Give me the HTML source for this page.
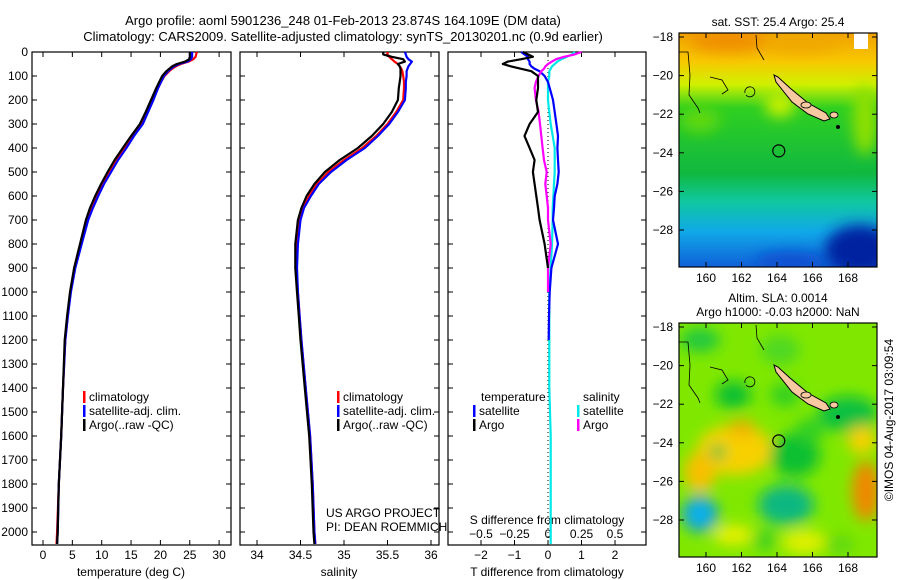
<!DOCTYPE html>
<html><head><meta charset="utf-8"><style>
html,body{margin:0;padding:0;background:#fff;}
svg{display:block;font-family:"Liberation Sans",sans-serif;}
</style></head><body>
<svg id="c" width="900" height="580" viewBox="0 0 900 580">
<defs>
<linearGradient id="sstg" x1="0" y1="0" x2="0" y2="1">
<stop offset="0" stop-color="#f0a000"/><stop offset="0.12" stop-color="#f8c800"/><stop offset="0.22" stop-color="#d0f000"/><stop offset="0.32" stop-color="#30d020"/><stop offset="0.6" stop-color="#10b840"/><stop offset="0.72" stop-color="#10c8a0"/><stop offset="0.85" stop-color="#10a8e8"/><stop offset="1" stop-color="#1060d8"/>
</linearGradient>
<filter id="blur" x="-50%" y="-50%" width="200%" height="200%"><feGaussianBlur stdDeviation="7"/></filter>
<clipPath id="m1c"><rect x="679" y="33" width="198" height="234"/></clipPath>
<clipPath id="m2c"><rect x="679" y="323" width="198" height="234"/></clipPath>
</defs>
<text x="343" y="25" font-size="13" text-anchor="middle">Argo profile: aoml 5901236_248 01-Feb-2013 23.874S 164.109E (DM data)</text>
<text x="343" y="41" font-size="13" text-anchor="middle">Climatology: CARS2009. Satellite-adjusted climatology: synTS_20130201.nc (0.9d earlier)</text>
<g id="g"></g>
</svg>
<script>
// depth levels (m)
const depths=[0,10,20,30,40,50,60,70,80,100,125,150,200,250,300,350,400,450,500,550,600,650,700,800,900,1000,1100,1200,1400,1600,1800,2000,2050];
// temperature profiles (deg C)
const tempArgo=[25.0,25.0,25.0,24.9,24.2,22.8,22.0,21.5,21.0,20.3,19.8,19.3,18.4,17.5,16.5,15.0,13.6,12.2,11.0,9.9,8.9,8.0,7.3,6.3,5.3,4.6,4.1,3.7,3.4,3.1,2.7,2.5,2.4];
const tempClim=[26.2,26.1,26.0,25.6,24.8,23.5,22.6,22.0,21.5,20.7,20.1,19.6,18.7,17.8,16.8,15.3,13.9,12.5,11.3,10.1,9.1,8.2,7.5,6.4,5.4,4.7,4.2,3.8,3.4,3.1,2.7,2.4,2.3];
const tempSat=[25.4,25.4,25.4,25.2,24.6,23.2,22.3,21.8,21.3,20.6,20.1,19.6,18.8,17.9,17.0,15.5,14.2,12.8,11.6,10.4,9.4,8.5,7.7,6.6,5.5,4.75,4.25,3.8,3.4,3.1,2.7,2.5,2.4];
// salinity profiles
const salArgo=[35.45,35.45,35.55,35.68,35.70,35.62,35.64,35.65,35.65,35.65,35.64,35.63,35.62,35.55,35.45,35.32,35.16,34.95,34.78,34.66,34.57,34.51,34.47,34.44,34.44,34.46,34.48,34.50,34.55,34.60,34.63,34.65,34.66];
const salClim=[35.50,35.50,35.52,35.55,35.58,35.62,35.64,35.66,35.67,35.68,35.69,35.69,35.68,35.60,35.50,35.37,35.21,35.00,34.82,34.69,34.60,34.53,34.49,34.46,34.45,34.47,34.49,34.51,34.56,34.61,34.64,34.66,34.67];
const salSat=[35.70,35.71,35.72,35.74,35.78,35.76,35.74,35.73,35.72,35.72,35.71,35.71,35.70,35.62,35.52,35.39,35.24,35.03,34.85,34.71,34.62,34.54,34.50,34.47,34.46,34.47,34.49,34.51,34.56,34.61,34.64,34.66,34.67];
// differences from climatology
const dTArgo=[-0.75,-0.6,-0.45,-0.8,-1.2,-1.35,-1.1,-0.8,-0.5,-0.3,-0.3,-0.3,-0.35,-0.3,-0.55,-0.7,-0.55,-0.4,-0.45,-0.4,-0.35,-0.3,-0.25,-0.1,0,0,0,0,0,0,0,0,0];
const dTSat=[-0.8,-0.7,-0.6,-0.6,-0.55,-0.55,-0.5,-0.4,-0.25,-0.1,0.0,0.05,0.15,0.2,0.25,0.3,0.28,0.3,0.32,0.28,0.2,0.18,0.15,0.3,0.1,0.05,0.03,0.02,0,0,0,0,0];
const dSArgo=[0.25,0.2,0.12,0.06,0.03,0.0,-0.02,-0.03,-0.05,-0.07,-0.09,-0.1,-0.09,-0.07,-0.06,-0.05,-0.04,-0.03,-0.01,-0.02,-0.01,0,0,0.02,0,0,0,0,0,0,0,0,0];
const dSSat=[0.2,0.18,0.14,0.1,0.07,0.05,0.03,0.02,0.01,0.01,0,0,0,0.01,0.02,0.035,0.05,0.05,0.05,0.045,0.04,0.035,0.035,0.03,0.02,0.01,0.01,0.01,0.01,0.02,0.02,0.02,0.02];
// tick labels
const depthTicks=[0,100,200,300,400,500,600,700,800,900,1000,1100,1200,1300,1400,1500,1600,1700,1800,1900,2000];
const tempTicks=[0,5,10,15,20,25,30];
const salTicks=[34,34.5,35,35.5,36];
const dTTicks=[-2,-1,0,1,2];
const dSTicks=[-0.5,-0.25,0,0.25,0.5];
const latTicks=[-18,-20,-22,-24,-26,-28];
const lonTicks=[160,162,164,166,168];

const NS='http://www.w3.org/2000/svg';
const G=document.getElementById('g');
function mk(tag,at,parent){const e=document.createElementNS(NS,tag);for(const k in at)e.setAttribute(k,at[k]);(parent||G).appendChild(e);return e;}
const Y0=52,Y1=545;
function yD(d){return 52+d*0.24;}
const panels=[{x0:32,x1:231},{x0:240,x1:439},{x0:448,x1:646}];
function xT(v){return 43+v*5.87;}
function xS(v){return 257+(v-34)*87;}
function xdT(v){return 548+v*33.5;}
function xdS(v){return 548+v*134;}

panels.forEach((p,i)=>{
  const r=mk('rect',{x:p.x0,y:Y0,width:p.x1-p.x0,height:Y1-Y0,fill:'none',stroke:'#000','stroke-width':1.2});
  
  
  depthTicks.forEach(d=>{
    mk('line',{x1:p.x0,x2:p.x0+5,y1:yD(d),y2:yD(d),stroke:'#000'});
    mk('line',{x1:p.x1-5,x2:p.x1,y1:yD(d),y2:yD(d),stroke:'#000'});
  });
});
depthTicks.forEach(d=>{
  const t=mk('text',{x:28,y:yD(d)+4,'font-size':12,'text-anchor':'end'});
  t.textContent=d;
  
  
});
function xticks(ticks,fx,p,ylab){
  ticks.forEach(v=>{
    const x=fx(v);
    mk('line',{x1:x,x2:x,y1:Y1,y2:Y1-5,stroke:'#000'});
    mk('line',{x1:x,x2:x,y1:Y0,y2:Y0+5,stroke:'#000'});
    const t=mk('text',{x:x,y:ylab,'font-size':12,'text-anchor':'middle'});
    t.textContent=String(v).replace('-','\u2212');
    
    
  });
}
xticks(tempTicks,xT,panels[0],559);
xticks(salTicks,xS,panels[1],559);
xticks(dTTicks,xdT,panels[2],559);
dSTicks.forEach(v=>{
  const t=mk('text',{x:xdS(v),y:538,'font-size':12,'text-anchor':'middle'});
  t.textContent=String(v).replace('-','\u2212');
  
  
});
function lab(x,y,s,name,anchor,size){const t=mk('text',{x:x,y:y,'font-size':size||12,'text-anchor':anchor||'middle'});t.textContent=s;return t;}
lab(131,576,'temperature (deg C)','x-axis-title-temperature');
lab(339,576,'salinity','x-axis-title-salinity');
lab(547,576,'T difference from climatology','x-axis-title-t-diff');
lab(547,524,'S difference from climatology','s-diff-axis-title');
lab(326,517,'US ARGO PROJECT','project-label','start');
lab(326,531,'PI: DEAN ROEMMICH','pi-label','start');

const zl=mk('line',{x1:548,x2:548,y1:Y0,y2:Y1,stroke:'#000','stroke-dasharray':'1,3'});



function series(vals,fx,color,name,maxDepth){
  let pts=[];
  vals.forEach((v,i)=>{if(maxDepth===undefined||depths[i]<=maxDepth)pts.push(fx(v).toFixed(1)+','+Math.min(yD(depths[i]),Y1).toFixed(1));});
  const pl=mk('polyline',{points:pts.join(' '),fill:'none',stroke:color,'stroke-width':2.2,'stroke-linejoin':'round'});
  
  
}
series(tempClim,xT,'#ff0000','temp-climatology-line');
series(tempSat,xT,'#0000ff','temp-satellite-line');
series(tempArgo,xT,'#000000','temp-argo-line');
series(salClim,xS,'#ff0000','sal-climatology-line');
series(salSat,xS,'#0000ff','sal-satellite-line');
series(salArgo,xS,'#000000','sal-argo-line');
series(dSSat,xdS,'#00e8e8','s-diff-satellite-line');
series(dTSat,xdT,'#0000ff','t-diff-satellite-line',1300);
series(dSArgo,xdS,'#ff00ff','s-diff-argo-line',1000);
series(dTArgo,xdT,'#000000','t-diff-argo-line',950);

function legend(x,y,color,s,name){
  mk('rect',{x:x,y:y-10,width:2.5,height:12,fill:color});
  lab(x+6,y,s,name,'start');
}
[[401,'#ff0000','climatology'],[415,'#0000ff','satellite-adj. clim.'],[429,'#000000','Argo(..raw -QC)']].forEach(e=>{
  legend(83,e[0],e[1],e[2],'legend-entry');
  legend(337,e[0],e[1],e[2],'legend-entry');
});
lab(481,401,'temperature','legend-header-temperature','start');
lab(583,401,'salinity','legend-header-salinity','start');
legend(473,415,'#0000ff','satellite','legend-entry');
legend(473,429,'#000000','Argo','legend-entry');
legend(577,415,'#00e8e8','satellite','legend-entry');
legend(577,429,'#ff00ff','Argo','legend-entry');

// maps
function xLon(l){return 706+(l-160)*17.75;}
function yLat(l,off){return 37+off+(-18-l)*19.3;}
function mapAxes(off,name){
  const r=mk('rect',{x:679,y:33+off,width:198,height:234,fill:'none',stroke:'#000','stroke-width':1.2});
  
  
  latTicks.forEach(l=>{const y=yLat(l,off);mk('line',{x1:679,x2:684,y1:y,y2:y,stroke:'#000'});mk('line',{x1:872,x2:877,y1:y,y2:y,stroke:'#000'});lab(673,y+4,String(l).replace('-','\u2212'),'lat-tick-label','end');});
  lonTicks.forEach(l=>{const x=xLon(l);mk('line',{x1:x,x2:x,y1:267+off,y2:262+off,stroke:'#000'});mk('line',{x1:x,x2:x,y1:33+off,y2:38+off,stroke:'#000'});lab(x,282+off,String(l),'lon-tick-label');});
}
// map 1 SST
const m1=mk('g',{'clip-path':'url(#m1c)'});
mk('rect',{x:679,y:33,width:198,height:234,fill:'url(#sstg)'},m1);
const b1=mk('g',{filter:'url(#blur)'},m1);
mk('ellipse',{cx:730,cy:40,rx:40,ry:12,fill:'#f09000'},b1);
mk('ellipse',{cx:800,cy:42,rx:40,ry:10,fill:'#f0a800'},b1);
mk('ellipse',{cx:780,cy:105,rx:15,ry:12,fill:'#c8f000'},b1);
mk('ellipse',{cx:860,cy:250,rx:35,ry:25,fill:'#0020a0'},b1);
mk('ellipse',{cx:790,cy:262,rx:35,ry:10,fill:'#1050d0'},b1);
mk('ellipse',{cx:865,cy:120,rx:12,ry:35,fill:'#90e000'},b1);
mk('ellipse',{cx:700,cy:120,rx:20,ry:12,fill:'#60d810'},b1);
mk('rect',{x:854,y:33,width:14,height:16,fill:'#fff'},m1);
// map 2 SLA
const m2=mk('g',{'clip-path':'url(#m2c)'});
mk('rect',{x:679,y:323,width:198,height:234,fill:'#80e800'},m2);
const b2=mk('g',{filter:'url(#blur)'},m2);
[[700,340,20,12,'#20c840'],[780,350,20,15,'#50d820'],[733,395,18,14,'#10c030'],[785,395,15,12,'#30d020'],[848,414,30,18,'#10c040'],[735,450,38,25,'#f8d000'],[742,428,14,8,'#f0b000'],[700,472,16,20,'#f8c000'],[718,452,8,7,'#20c040'],[795,455,25,22,'#10c030'],[810,430,15,12,'#30d020'],[866,491,14,30,'#f08800'],[862,440,14,14,'#f8d000'],[786,505,28,20,'#10b880'],[700,514,18,18,'#10a0e0'],[700,514,8,7,'#10c0f0'],[733,535,20,10,'#e8f000'],[804,542,22,12,'#e0f000'],[765,540,12,10,'#40d020'],[840,545,15,10,'#60d810']].forEach(e=>{
  const el=mk('ellipse',{cx:e[0],cy:e[1],rx:e[2],ry:e[3],fill:e[4]},b2);
});
[0,290].forEach((off)=>{
  const isl=mk('polygon',{points:[[774,75+off],[778,77+off],[790,88+off],[808,103+off],[826,113+off],[830,119+off],[824,121+off],[808,114+off],[792,102+off],[776,82+off]].map(p=>p.join(',')).join(' '),fill:'#f8c8a0',stroke:'#000','stroke-width':1});
  
  
  mk('path',{d:`M679 ${52+off} L688 ${52+off} L690 ${75+off} L689 ${95+off} L698 ${108+off} L700 ${113+off} M710 ${77+off} L722 ${80+off} L728 ${90+off} L722 ${94+off} M756 ${35+off} L757 ${48+off} L764 ${60+off} M745 ${93+off} A5 5 0 1 1 746 ${95+off}`,fill:'none',stroke:'#000','stroke-width':0.8});
  mk('ellipse',{cx:806,cy:105+off,rx:5,ry:3,fill:'#f8c8a0',stroke:'#000','stroke-width':0.8});
  mk('ellipse',{cx:834,cy:115+off,rx:4,ry:3,fill:'#f8c8a0',stroke:'#000','stroke-width':0.8});
  mk('circle',{cx:838,cy:127+off,r:2,fill:'#000'});
  const c=mk('circle',{cx:xLon(164.1),cy:yLat(-23.9,off),r:6,fill:'none',stroke:'#000','stroke-width':1.2});
  
  
});
mapAxes(0,'sst-map');
mapAxes(290,'sla-map');
lab(778,26,'sat. SST: 25.4 Argo: 25.4','sst-map-title');
lab(778,302,'Altim. SLA: 0.0014','sla-map-title-1');
lab(778,316,'Argo h1000: -0.03 h2000: NaN','sla-map-title-2');
const cp=lab(0,0,'\u00a9IMOS 04-Aug-2017 03:09:54','copyright-label');
cp.setAttribute('transform','translate(893,420) rotate(-90)');
</script>
</body></html>
